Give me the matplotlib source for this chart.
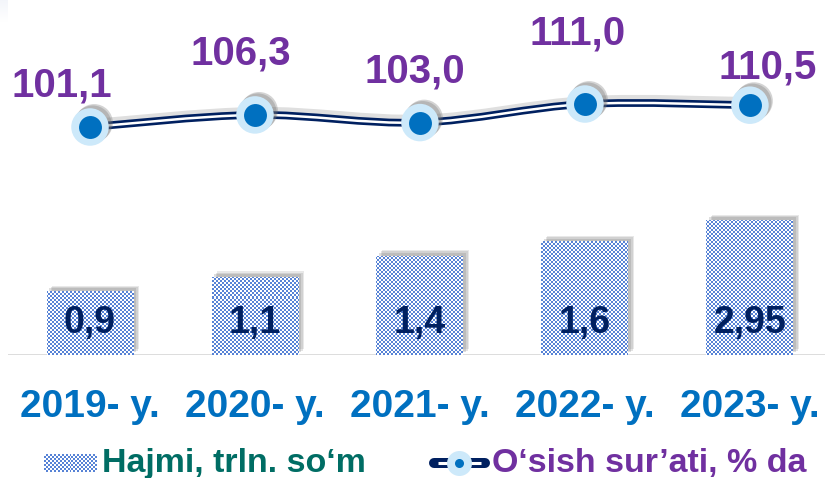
import numpy as np
import matplotlib

matplotlib.use('Agg')

from matplotlib import pyplot as plt
from matplotlib import transforms
from matplotlib.colors import ListedColormap
from matplotlib.lines import Line2D
from matplotlib.path import Path
from matplotlib.patches import PathPatch
import matplotlib.patheffects as pe

plt.rcParams['font.family'] = ['Liberation Sans', 'DejaVu Sans']
plt.rcParams['font.weight'] = 'bold'

# data
years = ['2019- y.', '2020- y.', '2021- y.', '2022- y.', '2023- y.']
volume = [0.9, 1.1, 1.4, 1.6, 2.95]
volume_labels = ['0,9', '1,1', '1,4', '1,6', '2,95']
# the last bar is drawn shorter than its value in the original slide
volume_drawn = [0.9, 1.1, 1.4, 1.6, 1.9]
growth = [101.1, 106.3, 103.0, 111.0, 110.5]
growth_labels = ['101,1', '106,3', '103,0', '111,0', '110,5']

NAVY = '#002060'
PURPLE = '#7030a0'
BLUE = '#0070c0'
LIGHT = '#cde9fa'
TEAL = '#006d64'
checker_cmap = ListedColormap(['white', '#5783d6'])

# label offsets (points) for the growth values, as placed on the slide
label_offsets = [(-20, 22), (-10, 36), (-4, 29), (-5, 43), (13, 19)]


def checker(rows, cols):
    return np.indices((rows, cols)).sum(axis=0) % 2


def smooth_path(xs, ys):
    pts = np.column_stack([xs, ys]).astype(float)
    ext = np.vstack([pts[0], pts, pts[-1]])
    verts = [pts[0]]
    codes = [Path.MOVETO]
    for i in range(len(pts) - 1):
        p0, p1, p2, p3 = ext[i], ext[i + 1], ext[i + 2], ext[i + 3]
        verts += [p1 + (p2 - p0) / 6, p2 - (p3 - p1) / 6, p2]
        codes += [Path.CURVE4] * 3
    return Path(verts, codes)


fig = plt.figure(figsize=(8.25, 4.78), dpi=100)

# faint grey band at the top of the slide
bg = fig.add_axes([0, 1 - 22 / 478, 1, 22 / 478], zorder=-5)
bg.imshow(np.linspace(0, 1, 50).reshape(-1, 1), cmap=ListedColormap(
    [tuple(np.array([0.955, 0.963, 0.982]) * (1 - t) + t) for t in np.linspace(0, 1, 50)]),
    aspect='auto', extent=(0, 1, 0, 1))
bg.axis('off')

ax = fig.add_axes([7.5 / 825, 123 / 478, 817.5 / 825, 355 / 478])
x = np.arange(len(years))
xlim = (-0.5, 4.455)
ylim = (0, 5.0)

bars = ax.bar(x, volume_drawn, width=0.527, color='none', edgecolor='none', zorder=2)
for b in bars:
    b.set_path_effects([
        pe.SimplePatchShadow(offset=(4, 4), shadow_rgbFace='#808080', alpha=0.18),
        pe.SimplePatchShadow(offset=(3, 3), shadow_rgbFace='#808080', alpha=0.22),
        pe.SimplePatchShadow(offset=(2, 2), shadow_rgbFace='#808080', alpha=0.25),
        pe.Normal()])
    im = ax.imshow(checker(178, 409), cmap=checker_cmap, extent=(*xlim, *ylim),
                   interpolation='nearest', aspect='auto', zorder=3)
    im.set_clip_path(b)

for i, lab in enumerate(volume_labels):
    ax.text(x[i], 0.31, lab, ha='center', va='baseline', fontsize=27,
            fontweight='bold', color=NAVY, zorder=4)

ax.axhline(0, color='#d9d9d9', lw=2, zorder=1)
ax.set_xlim(*xlim)
ax.set_ylim(*ylim)
ax.set_xticks([])
ax.set_yticks([])
for s in ax.spines.values():
    s.set_visible(False)

lab_tr = transforms.blended_transform_factory(ax.transData, ax.transAxes)
for i, yr in enumerate(years):
    ax.text(x[i], -62 / 355, yr, transform=lab_tr, ha='center', va='baseline',
            fontsize=28, fontweight='bold', color=BLUE)

# growth line on its own scale
ax2 = ax.twinx()
ax2.set_ylim(2.82, 2.82 + 355 / 2.32)
ax2.set_xlim(*xlim)
ax2.axis('off')

path = smooth_path(x, growth)
ax2.add_patch(PathPatch(path, fill=False, edgecolor=NAVY, lw=5.6, zorder=3,
                        path_effects=[pe.SimpleLineShadow(offset=(2, 3), shadow_color='#808080', alpha=0.25),
                                      pe.Normal()]))
ax2.add_patch(PathPatch(path, fill=False, edgecolor='white', lw=1.8, zorder=4))

ax2.plot(x, growth, 'o', ms=27, mfc=LIGHT, mec='none', zorder=5,
         path_effects=[pe.SimplePatchShadow(offset=(3, 3), shadow_rgbFace='#707070', alpha=0.3),
                       pe.SimplePatchShadow(offset=(2, 2), shadow_rgbFace='#707070', alpha=0.3),
                       pe.Normal()])
ax2.plot(x, growth, 'o', ms=16.5, mfc=BLUE, mec='none', zorder=6)

for i, lab in enumerate(growth_labels):
    ax2.annotate(lab, (x[i], growth[i]), xytext=label_offsets[i], textcoords='offset points',
                 ha='center', va='baseline', fontsize=29, fontweight='bold', color=PURPLE)

# legend drawn by hand to keep the checker swatch and the double line
sw = fig.add_axes([44 / 825, 6 / 478, 53 / 825, 18 / 478])
sw.imshow(checker(9, 27), cmap=checker_cmap, interpolation='nearest', aspect='auto')
sw.axis('off')
fig.text(102 / 825, 6 / 478, 'Hajmi, trln. so\u2018m', ha='left', va='baseline',
         fontsize=24.5, fontweight='bold', color=TEAL)

ly = 15 / 478
fig.add_artist(Line2D([434 / 825, 485 / 825], [ly, ly], transform=fig.transFigure,
                      color=NAVY, lw=7.2, solid_capstyle='round'))
fig.add_artist(Line2D([438 / 825, 481 / 825], [ly, ly], transform=fig.transFigure,
                      color='white', lw=2.2, solid_capstyle='butt'))
fig.add_artist(Line2D([459 / 825], [ly], transform=fig.transFigure, marker='o', ms=18,
                      mfc=LIGHT, mec='none', ls='none'))
fig.add_artist(Line2D([459 / 825], [ly], transform=fig.transFigure, marker='o', ms=6.5,
                      mfc=BLUE, mec='none', ls='none'))
fig.text(492 / 825, 6 / 478, 'O\u2018sish sur\u2019ati, % da', ha='left', va='baseline',
         fontsize=24.5, fontweight='bold', color=PURPLE)

plt.savefig('out.png', dpi=100)
